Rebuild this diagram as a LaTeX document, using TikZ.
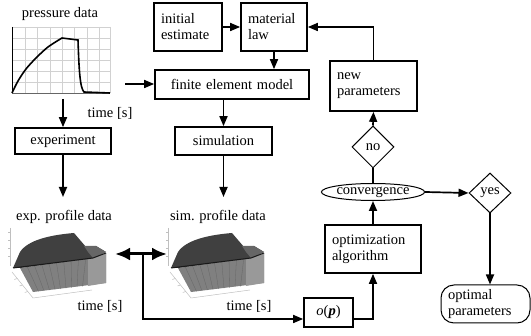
\documentclass[tikz,border=0pt]{standalone}
\usepackage{fontspec}
\setmainfont{Liberation Serif}
\newfontfamily\timesfont{Liberation Serif}
\usetikzlibrary{arrows.meta,shapes.geometric,calc}
\tikzset{
  lbl/.style={inner sep=0pt,font=\timesfont\fontsize{14.5}{16}\selectfont},
  box/.style={draw,line width=1.7pt,inner ysep=0pt,inner xsep=7pt,font=\timesfont\fontsize{14.5}{16}\selectfont},
  thinshape/.style={draw,line width=1pt,inner sep=0pt,font=\timesfont\fontsize{14.5}{16}\selectfont},
  conn/.style={line width=1.7pt},
  arr/.style={line width=1.7pt,-{Triangle[length=10pt,width=8pt]}},
  grid/.style={draw=black!18,line width=0.5pt},
  faint/.style={draw=black!25,line width=0.5pt},
  profile/.pic={
    \draw[faint] (10,228) -- (10,266);
    \foreach \t in {232,240,248,256} \draw[faint] (8,\t) -- (11,\t);
    \draw[faint] (12,272) -- (33,298) -- (92,290);
    \foreach \t in {0.25,0.5,0.75} \draw[faint] ($(12,272)!\t!(33,298)$) -- ++(-3,1);
    \fill[black!50] (20,268) -- (93,258) -- (106,253) -- (106,283) -- (33,292) -- cycle;
    \fill[black!40] (88,259) -- (106,253) -- (106,283) -- (88,286) -- cycle;
    \foreach \u in {0.1,0.2,...,0.9}
      \draw[black!60,line width=0.3pt] ($(20,268)!\u!(93,258)$) -- ($(33,292)!\u!(88,286)$);
    \fill[black!75] (13,268) -- (20,252) .. controls (28,240) and (50,235) .. (74,233)
      -- (80,240) -- (86,247) -- (96,246) -- (106,252) -- (93,258) -- (20,268) -- cycle;
    \fill[black!60] (84,246) -- (96,246) -- (106,252) -- (93,258) -- (88,252) -- cycle;
    \draw[black!90,line width=1pt] (13,268) -- (93,258) -- (106,253);
  }
}
\begin{document}
\begin{tikzpicture}[x=1pt,y=-1pt]
\useasboundingbox (0,0) rectangle (531,336);

% pressure plot
\foreach \x in {25,37,50,62,74,87,99,110} \draw[grid] (\x,27) -- (\x,93);
\foreach \y in {27,38,49,60,71,82} \draw[grid] (12,\y) -- (110,\y);
\draw[line width=0.8pt] (12,27) -- (12,93);
\draw[line width=0.8pt,black!60] (12,93) -- (110,93);
\draw[line width=1.6pt] plot[smooth] coordinates {(12,93) (18,81) (26,69) (36,58) (48,47) (62,38)}
  -- (70,39) -- (78,40) .. controls (79,70) and (80,88) .. (84,92) -- (110,93);
\node[lbl] (ptitle) at (60,14) {pressure data};
\node[lbl] (ptime) at (110,113) {time [s]};

% boxes
\node[box,text width=54pt,minimum height=48pt,align=left] (init) at (188,27) {initial\\estimate};
\node[box,text width=52pt,minimum height=48pt,align=left] (mat) at (274,27) {material\\law};
\node[box,text width=140pt,minimum height=29pt,align=center] (fem) at (232,84.5) {finite element model};
\node[box,text width=82pt,minimum height=26pt,align=center] (exp) at (63,141) {experiment};
\node[box,text width=83pt,minimum height=28pt,align=center] (sim) at (223.5,141) {simulation};
\node[box,text width=73pt,minimum height=50pt,align=left] (newp) at (373.5,86) {new\\parameters};
\node[box,text width=82pt,minimum height=48pt,align=left] (optalg) at (373,249) {optimization\\algorithm};
\node[box,text width=35pt,minimum height=29pt,align=center] (op) at (328.5,312.5) {\textit{o}(\textbf{\textit{p}})};
\node[thinshape,ellipse,minimum width=100pt,minimum height=17pt] (conv) at (373,192) {convergence};
\node[thinshape,diamond,minimum width=42pt,minimum height=42pt] (no) at (373,147) {no};
\node[thinshape,diamond,minimum width=42pt,minimum height=40pt] (yes) at (490,193) {yes};
\node[thinshape,rounded corners=13pt,minimum width=89pt,minimum height=38pt,align=left,text width=75pt,inner xsep=7pt] (optimal) at (485.5,304) {optimal\\parameters};

% profile plots
\pic (pexp) at (0,0) {profile};
\pic (psim) at (158,0) {profile};
\node[lbl] (exptitle) at (64,217) {exp. profile data};
\node[lbl] (simtitle) at (218,217) {sim. profile data};
\node[lbl] (exptime) at (100,306) {time [s]};
\node[lbl] (simtime) at (249,306) {time [s]};

% coordinates
\coordinate (pright) at (125,84);
\coordinate (pdown) at (63,99);
\coordinate (expend) at (63,197);
\coordinate (simend) at (223.5,197);
\coordinate (dl) at (115,254);
\coordinate (dr) at (167,254);
\coordinate (dj) at (143,254);
\coordinate (jr) at (143,319);

% connectors
\draw[arr] (init.east) -- (mat.west);
\draw[arr] (mat.south) -- (mat.south |- fem.north);
\draw[arr] (newp.north) |- (mat.east);
\draw[arr] (pright) -- (pright -| fem.west);
\draw[arr] (pdown) -- (exp.north);
\draw[arr] (exp.south) -- (expend);
\draw[arr] (sim.north |- fem.south) -- (sim.north);
\draw[arr] (sim.south) -- (simend);
\draw[conn] (conv.north) -- (no.south);
\draw[arr] (no.north) -- (newp.south);
\draw[arr] (conv.east) -- (yes.west);
\draw[arr] (yes.south) -- (yes.south |- optimal.north);
\draw[arr] (optalg.north) -- (conv.south);
\draw[line width=3pt,{Latex[length=15pt,width=13pt]}-{Latex[length=15pt,width=13pt]}] (dl) -- (dr);
\draw[arr] (dj) -- (jr) -- (jr -| op.west);
\draw[arr] (jr -| op.east) -| (optalg.south);
\end{tikzpicture}
\end{document}
